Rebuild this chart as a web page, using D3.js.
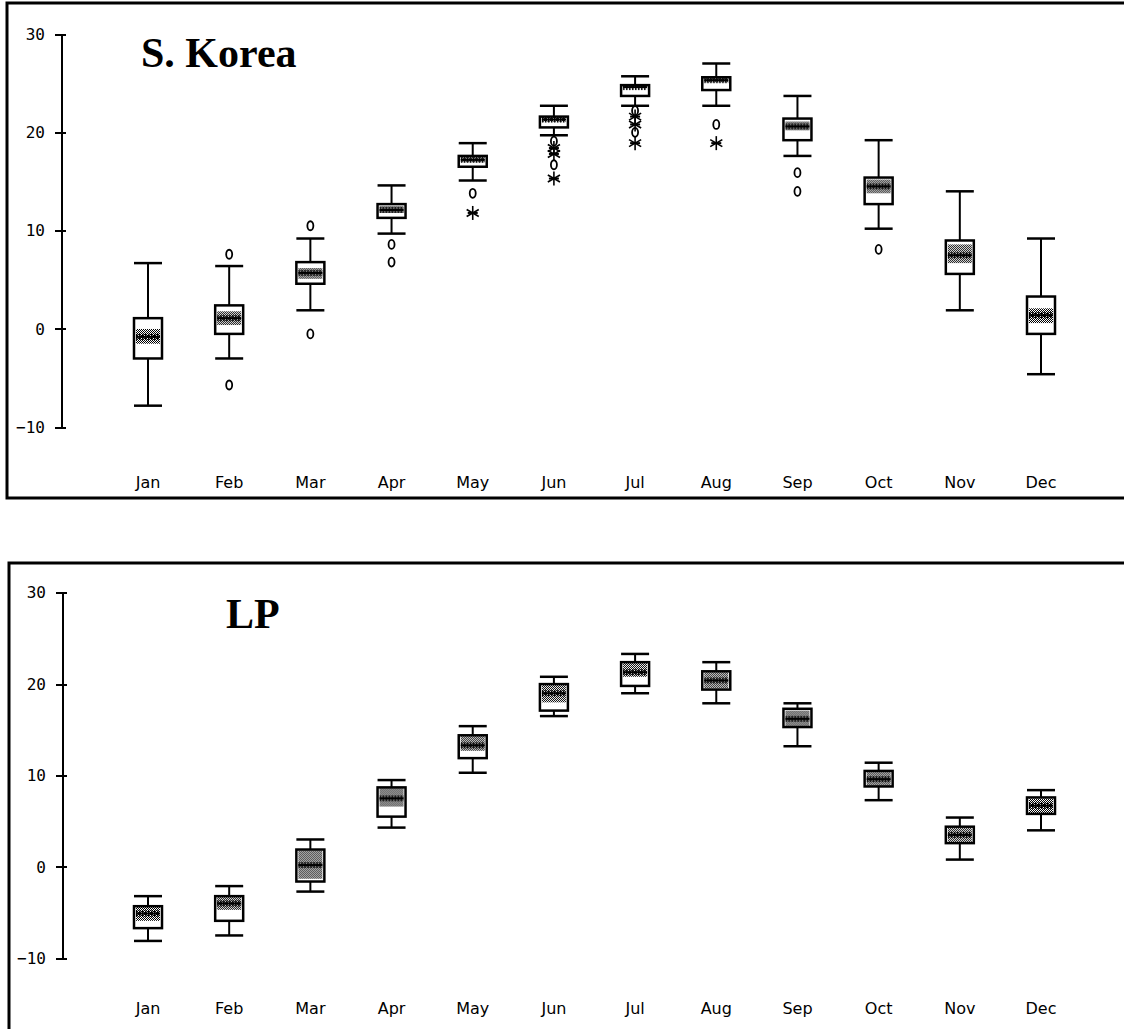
<!DOCTYPE html>
<html lang="en">
<head>
<meta charset="utf-8">
<title>Monthly temperature box plots</title>
<script src="https://cdn.jsdelivr.net/npm/d3@7"></script>
<style>
  body { margin: 0; background: #fff; }
  .axis path, .axis line { stroke: #000; stroke-width: 2; fill: none; shape-rendering: crispEdges; }
  .axis text { font-family: "DejaVu Sans Mono", monospace; font-size: 16px; fill: #000; }
  .month { font-family: "DejaVu Sans", sans-serif; font-size: 16px; fill: #000; }
  .title { font-family: "Liberation Serif", "Times New Roman", serif; font-weight: bold; font-size: 42px; fill: #000; }
  .frame { stroke: #000; stroke-width: 3; fill: none; }
</style>
</head>
<body>
<div id="chart"></div>
<script>
var months = ["Jan","Feb","Mar","Apr","May","Jun","Jul","Aug","Sep","Oct","Nov","Dec"];
var yTicks = [-10, 0, 10, 20, 30];

// S. Korea
var korLow    = [-7.8, -3.0,  1.9,  9.7, 15.1, 19.7, 22.7, 22.7, 17.6, 10.2,  1.9, -4.6];
var korQ1     = [-3.0, -0.5,  4.6, 11.3, 16.5, 20.5, 23.7, 24.3, 19.2, 12.7,  5.6, -0.5];
var korMed    = [-0.8,  1.1,  5.7, 12.1, 17.2, 21.3, 24.6, 25.3, 20.6, 14.5,  7.5,  1.4];
var korQ3     = [ 1.1,  2.4,  6.8, 12.7, 17.6, 21.6, 24.8, 25.6, 21.4, 15.4,  9.0,  3.3];
var korHigh   = [ 6.7,  6.4,  9.2, 14.6, 18.9, 22.7, 25.7, 27.0, 23.7, 19.2, 14.0,  9.2];
var korBandLo = [-1.5,  0.4,  5.1, 11.8, 17.0, 21.1, 24.5, 25.1, 20.2, 13.8,  6.7,  0.6];
var korBandHi = [ 0.0,  1.8,  6.2, 12.5, 17.5, 21.6, 24.8, 25.6, 21.1, 15.2,  8.6,  2.1];
var korCircles = [[], [7.6, -5.7], [10.5, -0.5], [8.6, 6.8], [13.8], [19.1, 16.7], [22.2, 20.0], [20.8], [15.9, 14.0], [8.1], [], []];
var korStars   = [[], [], [], [], [11.8], [18.4, 17.8, 15.3], [21.6, 20.8, 18.9], [18.9], [], [], [], []];

// LP
var lpLow    = [-8.1, -7.5, -2.7,  4.3, 10.3, 16.5, 19.0, 17.9, 13.2,  7.3,  0.8,  4.0];
var lpQ1     = [-6.7, -5.9, -1.6,  5.5, 11.9, 17.1, 19.8, 19.4, 15.3,  8.8,  2.6,  5.8];
var lpMed    = [-5.1, -4.0,  0.2,  7.5, 13.3, 19.0, 21.3, 20.4, 16.2,  9.6,  3.5,  6.7];
var lpQ3     = [-4.3, -3.2,  1.9,  8.7, 14.4, 20.0, 22.4, 21.4, 17.3, 10.5,  4.4,  7.6];
var lpHigh   = [-3.2, -2.1,  3.0,  9.5, 15.4, 20.8, 23.3, 22.4, 17.9, 11.4,  5.4,  8.4];
var lpBandLo = [-5.9, -4.7, -1.3,  6.6, 12.7, 18.0, 20.8, 19.5, 15.3,  8.8,  2.6,  5.8];
var lpBandHi = [-4.3, -3.2,  1.8,  8.7, 14.4, 20.0, 22.4, 21.4, 17.1, 10.4,  4.3,  7.5];

var svg = d3.select("#chart").append("svg")
    .attr("width", 1124)
    .attr("height", 1029);

var defs = svg.append("defs");
// gray dither for the median band
var dots = defs.append("pattern").attr("id", "dots")
    .attr("patternUnits", "userSpaceOnUse").attr("width", 2).attr("height", 2);
dots.append("rect").attr("width", 1).attr("height", 1).attr("fill", "#000");
dots.append("rect").attr("x", 1).attr("y", 1).attr("width", 1).attr("height", 1).attr("fill", "#000");
// comb for the median line
var comb = defs.append("pattern").attr("id", "comb")
    .attr("patternUnits", "userSpaceOnUse").attr("width", 3).attr("height", 20);
comb.append("rect").attr("width", 1.5).attr("height", 20).attr("fill", "#000");

var x = d3.scalePoint().domain(months).range([148, 1041]);
var boxW = 28;

function panel(o) {
  var g = svg.append("g");
  var y = d3.scaleLinear().domain([-10, 30]).range(o.yRange);

  g.append("path").attr("class", "frame").attr("d", o.frame);

  var axis = d3.axisLeft(y).tickValues(yTicks).tickSizeInner(6).tickSizeOuter(0).tickPadding(10)
      .tickFormat(d3.format("d"));
  var ax = g.append("g").attr("class", "axis")
      .attr("transform", "translate(" + o.axisX + ",0)")
      .call(axis);
  ax.selectAll(".tick line").attr("x2", -6).attr("x1", 5);

  g.append("text").attr("class", "title")
      .attr("x", o.titleX).attr("y", o.titleY).text(o.title);

  g.selectAll(".month").data(months).enter().append("text")
      .attr("class", "month")
      .attr("x", function(d) { return x(d); })
      .attr("y", o.labelY)
      .attr("text-anchor", "middle")
      .text(function(d) { return d; });

  var boxes = g.selectAll(".box").data(months).enter().append("g")
      .attr("transform", function(d) { return "translate(" + x(d) + ",0)"; });

  // whisker stems
  boxes.append("line")
      .attr("y1", function(d, i) { return y(o.high[i]); })
      .attr("y2", function(d, i) { return y(o.low[i]); })
      .attr("stroke", "#000").attr("stroke-width", 2);
  // caps
  [o.high, o.low].forEach(function(arr) {
    boxes.append("line")
        .attr("x1", -boxW / 2).attr("x2", boxW / 2)
        .attr("y1", function(d, i) { return y(arr[i]); })
        .attr("y2", function(d, i) { return y(arr[i]); })
        .attr("stroke", "#000").attr("stroke-width", 2.5);
  });
  // box
  boxes.append("rect")
      .attr("x", -boxW / 2).attr("width", boxW)
      .attr("y", function(d, i) { return y(o.q3[i]); })
      .attr("height", function(d, i) { return y(o.q1[i]) - y(o.q3[i]); })
      .attr("fill", "#fff").attr("stroke", "#000").attr("stroke-width", 2.5);
  // median band
  boxes.append("rect")
      .attr("x", -boxW / 2 + 2).attr("width", boxW - 4)
      .attr("y", function(d, i) { return y(o.bandHi[i]); })
      .attr("height", function(d, i) { return y(o.bandLo[i]) - y(o.bandHi[i]); })
      .attr("fill", "url(#dots)");
  boxes.append("rect")
      .attr("x", -boxW / 2 + 2).attr("width", boxW - 4)
      .attr("y", function(d, i) { return y(o.med[i]) - 3; })
      .attr("height", 6)
      .attr("fill", "url(#comb)");
  boxes.append("line")
      .attr("x1", -boxW / 2 + 2).attr("x2", boxW / 2 - 2)
      .attr("y1", function(d, i) { return y(o.med[i]); })
      .attr("y2", function(d, i) { return y(o.med[i]); })
      .attr("stroke", "#000").attr("stroke-width", 2);

  if (o.circles) {
    boxes.each(function(d, i) {
      var b = d3.select(this);
      b.selectAll("ellipse").data(o.circles[i]).enter().append("ellipse")
          .attr("cx", 0).attr("cy", function(v) { return y(v); })
          .attr("rx", 3).attr("ry", 4.5)
          .attr("fill", "none").attr("stroke", "#000").attr("stroke-width", 1.8);
      var st = b.selectAll(".star").data(o.stars[i]).enter().append("g")
          .attr("class", "star")
          .attr("transform", function(v) { return "translate(0," + y(v) + ")"; });
      [0, 60, 120].forEach(function(a) {
        st.append("line").attr("x1", 0).attr("x2", 0).attr("y1", -7).attr("y2", 7)
            .attr("transform", "rotate(" + a + ")")
            .attr("stroke", "#000").attr("stroke-width", 1.6);
      });
      st.append("line").attr("x1", -5).attr("x2", 5).attr("stroke", "#000").attr("stroke-width", 2);
    });
  }
}

panel({
  yRange: [427.3, 34], axisX: 61,
  frame: "M1124,3H7V498H1124",
  title: "S. Korea", titleX: 141, titleY: 67, labelY: 488,
  low: korLow, q1: korQ1, med: korMed, q3: korQ3, high: korHigh,
  bandLo: korBandLo, bandHi: korBandHi, circles: korCircles, stars: korStars
});

panel({
  yRange: [958.3, 592.7], axisX: 62,
  frame: "M1124,563H9V1029",
  title: "LP", titleX: 226, titleY: 628, labelY: 1014,
  low: lpLow, q1: lpQ1, med: lpMed, q3: lpQ3, high: lpHigh,
  bandLo: lpBandLo, bandHi: lpBandHi
});
</script>
</body>
</html>
